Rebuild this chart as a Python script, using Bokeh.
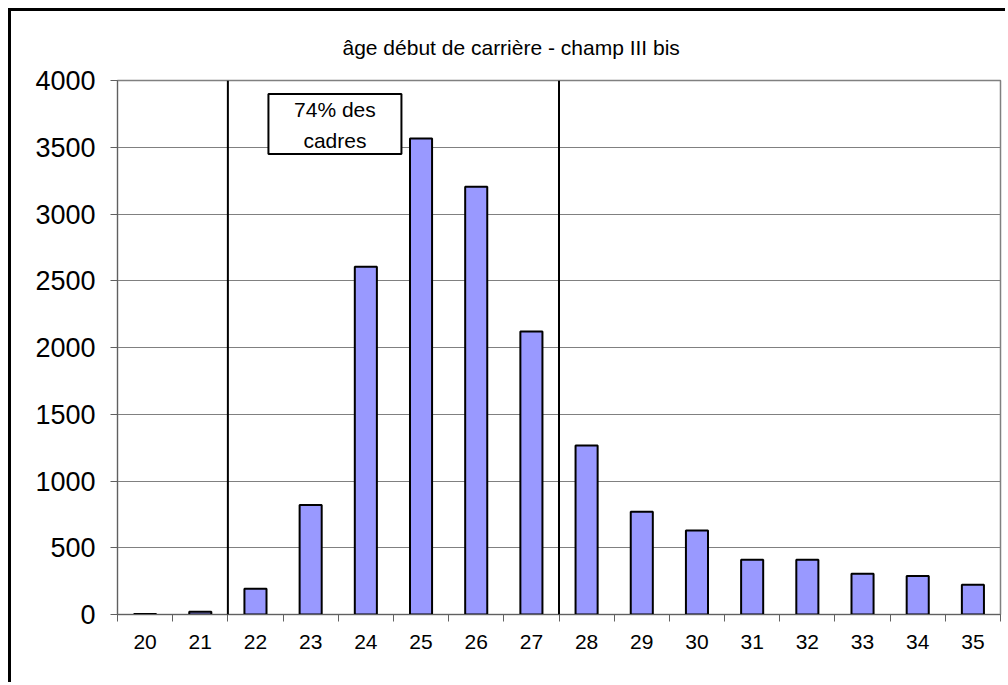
from bokeh.plotting import figure
from bokeh.models import Range1d, FixedTicker, Span
from bokeh.core.properties import value
from bokeh.embed import file_html
from bokeh.resources import INLINE

# ---- data ----
ages = ["20", "21", "22", "23", "24", "25", "26", "27",
        "28", "29", "30", "31", "32", "33", "34", "35"]
counts = [3, 20, 192, 820, 2605, 3565, 3205, 2120,
          1265, 770, 630, 411, 411, 306, 289, 222]
y_ticks = [0, 500, 1000, 1500, 2000, 2500, 3000, 3500, 4000]
title_text = "âge début de carrière - champ III bis"
note_text = "74% des\ncadres"
bracket_first = "22"
bracket_last = "27"

FONT = "Liberation Sans"
n = len(ages)
centers = [i + 0.5 for i in range(n)]
bounds = list(range(n + 1))

p = figure(width=997, height=674, output_backend="svg", toolbar_location=None,
           x_range=Range1d(0, n), y_range=Range1d(0, y_ticks[-1]),
           min_border_left=106, min_border_right=8,
           min_border_top=68, min_border_bottom=71)
p.styles = {"margin-left": "8px", "margin-top": "8px",
            "border-left": "3px solid black", "border-top": "3px solid black"}
p.background_fill_color = "white"
p.border_fill_color = "white"
p.outline_line_color = "#808080"
p.outline_line_width = 1.5

# title
p.title.text = title_text
p.title.text_font = FONT
p.title.text_font_size = "21px"
p.title.text_font_style = "normal"
p.title.text_color = "black"
p.title.align = "left"
p.title.offset = 225
p.title.standoff = 44

# grid
p.xgrid.visible = False
p.ygrid.ticker = FixedTicker(ticks=y_ticks)
p.ygrid.grid_line_color = "#808080"
p.ygrid.grid_line_width = 1

# y axis
p.yaxis.ticker = FixedTicker(ticks=y_ticks)
p.yaxis.major_label_text_font = FONT
p.yaxis.major_label_text_font_size = "27px"
p.yaxis.major_label_text_color = "black"
p.yaxis.major_tick_out = 7
p.yaxis.major_tick_in = 0
p.yaxis.minor_tick_line_color = None
p.yaxis.axis_line_color = "#606060"
p.yaxis.major_tick_line_color = "#606060"
p.yaxis.major_label_standoff = 15

# x axis: labels at category centres, tick marks at category boundaries
p.xaxis.ticker = FixedTicker(ticks=centers, minor_ticks=bounds)
p.xaxis.major_label_overrides = {c: a for c, a in zip(centers, ages)}
p.xaxis.major_label_text_font = FONT
p.xaxis.major_label_text_font_size = "21px"
p.xaxis.major_label_text_color = "black"
p.xaxis.major_tick_line_color = None
p.xaxis.major_tick_out = 7
p.xaxis.major_tick_in = 0
p.xaxis.minor_tick_line_color = "#606060"
p.xaxis.minor_tick_out = 7
p.xaxis.minor_tick_in = 0
p.xaxis.axis_line_color = "#606060"
p.xaxis.major_label_standoff = 13

# bars
p.vbar(x=centers, top=counts, bottom=0, width=0.40,
       fill_color="#9999FF", line_color="black", line_width=2)

# bracket lines
for loc in (ages.index(bracket_first), ages.index(bracket_last) + 1):
    p.add_layout(Span(location=loc, dimension="height",
                      line_color="black", line_width=2))

# note box
p.rect(x=[3.94], y=[3674], width=133, height=60,
       width_units="screen", height_units="screen",
       fill_color="white", line_color="black", line_width=2)
p.text(x=[3.94], y=[3664], text=[note_text], text_align="center",
       text_baseline="middle", text_font=value(FONT), text_font_size="21px",
       text_line_height=1.36, text_color="black")

open("out.html", "w").write(file_html(p, INLINE))
